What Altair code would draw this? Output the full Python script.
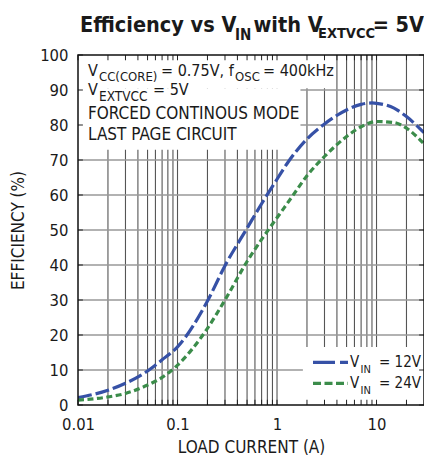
import altair as alt
import pandas as pd

# ---------------- data ----------------
load_12 = [0.01, 0.02, 0.03, 0.05, 0.07, 0.1, 0.2, 0.3, 0.5, 0.7, 1, 1.3, 2, 3, 5, 7, 9, 10, 15, 20, 30]
eff_12 = [2.1, 4.2, 6.2, 9.7, 12.9, 16.6, 29.7, 39.8, 50.5, 57.5, 64.5, 69.5, 76.0, 80.3, 84.3, 85.9, 86.3, 86.2, 84.8, 82.4, 77.8]

load_24 = [0.01, 0.02, 0.03, 0.05, 0.07, 0.1, 0.2, 0.3, 0.5, 0.7, 1, 1.4, 2, 3, 5, 7, 10, 15, 20, 30]
eff_24 = [1.4, 2.3, 3.3, 5.7, 7.9, 11.4, 21.9, 30.0, 41.0, 47.3, 53.5, 59.3, 65.5, 71.0, 76.7, 79.5, 81.0, 80.7, 79.1, 74.6]

x_ticks = [0.01, 0.1, 1, 10]
x_grid = [0.02, 0.03, 0.04, 0.05, 0.06, 0.07, 0.08, 0.09, 0.1,
          0.2, 0.3, 0.4, 0.5, 0.6, 0.7, 0.8, 0.9, 1,
          2, 3, 4, 5, 6, 7, 8, 9, 10, 20]
y_ticks = [0, 10, 20, 30, 40, 50, 60, 70, 80, 90, 100]
y_grid = [10, 20, 30, 40, 50, 60, 70, 80, 90]

BLUE = "#3651a6"
GREEN = "#3b8c4a"
FONT = "DejaVu Sans Condensed, DejaVu Sans, sans-serif"
INK = "#1a1a1a"
W, H = 346, 350

xs = alt.Scale(type="log", domain=[0.01, 30])
ys = alt.Scale(domain=[0, 100])

XAX = alt.Axis(values=x_ticks, format=".2~f", grid=False, ticks=False, domain=False, labelFlush=False,
               labelFont=FONT, labelFontSize=16.5, labelColor=INK, labelPadding=11,
               titleFont=FONT, titleFontSize=17, titleFontWeight="normal", titleColor=INK,
               titleBaseline="alphabetic", titleY=47, titleX=W / 2, titleAlign="center", zindex=1)
YAX = alt.Axis(values=y_ticks, format="d", grid=False, ticks=False, domain=False, labelFlush=False,
               labelFont=FONT, labelFontSize=16.5, labelColor=INK, labelPadding=10,
               titleFont=FONT, titleFontSize=17, titleFontWeight="normal", titleColor=INK,
               titleAngle=270, titleBaseline="alphabetic", titleAlign="center",
               titleX=-54.5, titleY=H / 2, zindex=1)
XT = "LOAD CURRENT (A)"
YT = "EFFICIENCY (%)"


def X(f):
    return alt.X(f, scale=xs, axis=XAX, title=XT)


def Y(f):
    return alt.Y(f, scale=ys, axis=YAX, title=YT)


# ---------------- grid ----------------
vgrid = alt.Chart(pd.DataFrame({"v": x_grid})).mark_rule(color="#555555", strokeWidth=1.1).encode(x=X("v:Q"))
hgrid = alt.Chart(pd.DataFrame({"h": y_grid})).mark_rule(color="#999999", strokeWidth=1.4).encode(y=Y("h:Q"))

# ---------------- white boxes (annotation + legend backgrounds) ----------------
boxes = pd.DataFrame({
    "x0": [0.01, 0.01, 1.82],
    "x1": [3.86, 1.72, 30],
    "y0": [90.5, 72.9, 0],
    "y1": [100, 90.5, 16.6],
})
white = alt.Chart(boxes).mark_rect(color="white").encode(
    x=X("x0:Q"), x2="x1:Q", y=Y("y0:Q"), y2="y1:Q")

# ---------------- inward ticks ----------------
tb = pd.DataFrame({"v": x_grid + [0.01]})
ty = pd.DataFrame({"v": y_ticks})
tick_rule = dict(color="#222", strokeWidth=1)
bottom_ticks = alt.Chart(tb).transform_calculate(a="0", b="1.5").mark_rule(**tick_rule).encode(
    x=X("v:Q"), y=Y("a:Q"), y2="b:Q")
top_ticks = alt.Chart(tb).transform_calculate(a="98.5", b="100").mark_rule(**tick_rule).encode(
    x=X("v:Q"), y=Y("a:Q"), y2="b:Q")
left_ticks = alt.Chart(ty).transform_calculate(a="0.01", b="0.0112").mark_rule(**tick_rule).encode(
    y=Y("v:Q"), x=X("a:Q"), x2="b:Q")
right_ticks = alt.Chart(ty).transform_calculate(a="26.8", b="30").mark_rule(**tick_rule).encode(
    y=Y("v:Q"), x=X("a:Q"), x2="b:Q")

# ---------------- curves ----------------
c12 = alt.Chart(pd.DataFrame({"i": load_12, "e": eff_12})).mark_line(
    color=BLUE, strokeWidth=3.2, strokeDash=[14, 4], interpolate="monotone", clip=True).encode(
    x=X("i:Q"), y=Y("e:Q"))
c24 = alt.Chart(pd.DataFrame({"i": load_24, "e": eff_24})).mark_line(
    color=GREEN, strokeWidth=3.2, strokeDash=[6, 3.5], interpolate="monotone", clip=True).encode(
    x=X("i:Q"), y=Y("e:Q"))

one = pd.DataFrame({"k": [0]})


def txt(s, x, y, size, bold=False, align="left"):
    return alt.Chart(one).mark_text(
        text=s, x=x, y=y, fontSize=size, font=FONT, fontWeight="bold" if bold else "normal",
        align=align, baseline="alphabetic", color=INK)


def seg(x1, x2, y, color, dash):
    return alt.Chart(one).mark_rule(color=color, strokeWidth=3.2, strokeDash=dash).encode(
        x=alt.value(x1), x2=alt.value(x2), y=alt.value(y))


texts = [
    # title
    txt("Efficiency vs V", 2, -23.3, 21.5, True),
    txt("IN", 157, -15, 15, True),
    txt("with V", 175.5, -23.3, 21.5, True),
    txt("EXTVCC", 240, -16.7, 14.5, True),
    txt("= 5V", W, -23.3, 21.5, True, "right"),
    # annotation
    txt("V", 10, 20.7, 16),
    txt("CC(CORE)", 21, 26, 13),
    txt("= 0.75V, f", 83, 20.7, 16),
    txt("OSC", 157, 26, 13),
    txt("= 400kHz", 185, 20.7, 16),
    txt("V", 10, 40, 16),
    txt("EXTVCC", 21, 46, 13.5),
    txt("= 5V", 75, 40, 16),
    txt("FORCED CONTINOUS MODE", 10, 63.8, 17),
    txt("LAST PAGE CIRCUIT", 10, 85, 17),
    # legend
    txt("V", 272, 312.3, 15),
    txt("IN", 282.5, 318.3, 11),
    txt("= 12V", 301, 312.3, 15),
    txt("V", 272, 333.3, 15),
    txt("IN", 282.5, 339.3, 11),
    txt("= 24V", 301, 333.3, 15),
]
legend_syms = [seg(235, 270, 307.3, BLUE, [22, 5]), seg(235, 270, 328.3, GREEN, [8, 3.5])]

frame = alt.Chart(one).mark_rect(filled=False, stroke="#111", strokeWidth=1.5).encode(
    x=alt.value(0), x2=alt.value(W), y=alt.value(0), y2=alt.value(H))

chart = alt.layer(
    vgrid, hgrid, white, bottom_ticks, top_ticks, left_ticks, right_ticks,
    c12, c24, *legend_syms, *texts, frame
).properties(
    width=W, height=H,
    autosize=alt.AutoSizeParams(type="none"),
    padding={"left": 70, "top": 47, "right": 0, "bottom": 51},
    background="white",
).configure_view(stroke=None)

chart.save("out.html", embed_options={"renderer": "svg", "actions": False})
